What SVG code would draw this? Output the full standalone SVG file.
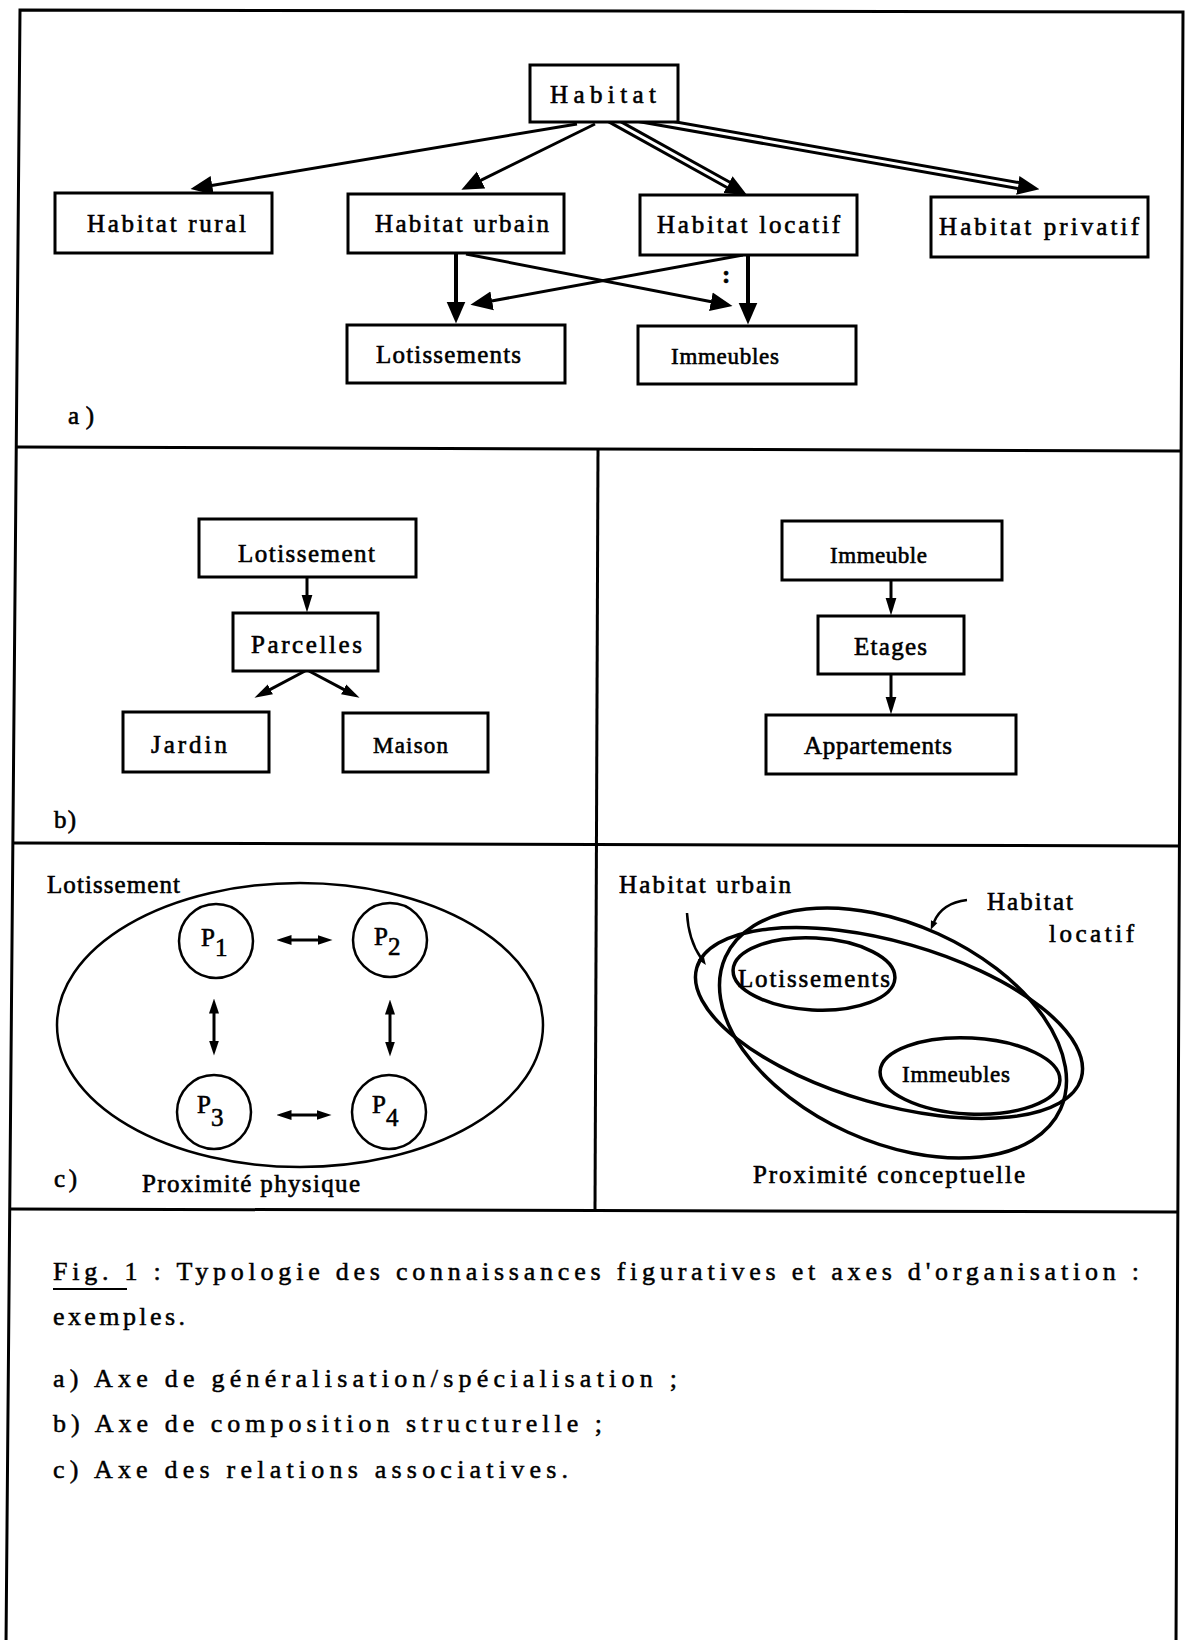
<svg xmlns="http://www.w3.org/2000/svg" width="1187" height="1640" viewBox="0 0 1187 1640">
<style>
  .frame { fill: none; stroke: #000; stroke-width: 3; }
  .box { fill: #fff; stroke: #000; stroke-width: 3; }
  .shape { fill: none; stroke: #000; stroke-width: 2.5; }
  .thick { fill: none; stroke: #000; stroke-width: 3.5; }
  .ln { fill: none; stroke: #000; stroke-width: 3; }
  .lnb { fill: none; stroke: #000; stroke-width: 4; }
  .dbl { fill: none; stroke: #000; stroke-width: 9; }
  .dblw { fill: none; stroke: #fff; stroke-width: 3; }
  .t { font-family: "Liberation Serif", "DejaVu Serif", serif; font-size: 25px; fill: #000; stroke: #000; stroke-width: 0.6px; }
  .ts { font-size: 23px; }
  .cap { font-family: "Liberation Serif", "DejaVu Serif", serif; font-size: 26px; fill: #000; stroke: #000; stroke-width: 0.5px; }
</style>
<defs>
  <marker id="ah" viewBox="0 -10 22 20" refX="0.5" refY="0" markerWidth="22" markerHeight="20" markerUnits="userSpaceOnUse" orient="auto">
    <path d="M0,-9.5 L22,0 L0,9.5 z" fill="#000"/>
  </marker>
  <marker id="ahb" viewBox="0 -6 18 12" refX="0.5" refY="0" markerWidth="18" markerHeight="12" markerUnits="userSpaceOnUse" orient="auto">
    <path d="M0,-5.5 L18,0 L0,5.5 z" fill="#000"/>
  </marker>
  <marker id="ahc" viewBox="0 -6 15 12" refX="0.5" refY="0" markerWidth="15" markerHeight="12" markerUnits="userSpaceOnUse" orient="auto-start-reverse">
    <path d="M0,-5 L15,0 L0,5 z" fill="#000"/>
  </marker>
  <marker id="tick" viewBox="0 -4 9 8" refX="0.5" refY="0" markerWidth="9" markerHeight="8" markerUnits="userSpaceOnUse" orient="auto">
    <path d="M0,-3.5 L9,0 L0,3.5 z" fill="#000"/>
  </marker>
</defs>

<rect x="0" y="0" width="1187" height="1640" fill="#fff"/>

<g id="frame">
  <path class="frame" d="M6,1645 L20,10 L1183,12 L1176,1645"/>
  <path class="frame" d="M17,447 L1181,451"/>
  <path class="frame" d="M14,843 L1180,846"/>
  <path class="frame" d="M11,1209 L1178,1212"/>
  <path class="frame" d="M598,449 L595,1210"/>
</g>

<g id="connectors">
  <!-- a) generalisation / specialisation -->
  <line class="ln" x1="577" y1="124" x2="211.7" y2="185.4" marker-end="url(#ah)"/>
  <line class="ln" x1="595" y1="124" x2="480.7" y2="180.3" marker-end="url(#ah)"/>
  <line class="dbl" x1="608" y1="118" x2="728.4" y2="184.9" marker-end="url(#ah)"/>
  <line class="dblw" x1="608" y1="118" x2="728.4" y2="184.9"/>
  <line class="dbl" x1="636" y1="118" x2="1018.3" y2="185.5" marker-end="url(#ah)"/>
  <line class="dblw" x1="636" y1="118" x2="1018.3" y2="185.5"/>
  <line class="lnb" x1="456" y1="253" x2="456" y2="302" marker-end="url(#ah)"/>
  <line class="lnb" x1="748" y1="255" x2="748" y2="303" marker-end="url(#ah)"/>
  <line class="ln" x1="466" y1="254" x2="711.4" y2="301.8" marker-end="url(#ah)"/>
  <line class="ln" x1="743" y1="255" x2="491.6" y2="301" marker-end="url(#ah)"/>
  <!-- b) composition -->
  <line class="ln" x1="307" y1="577" x2="307" y2="595" marker-end="url(#ahb)"/>
  <line class="ln" x1="305" y1="671" x2="269.9" y2="689.6" marker-end="url(#ahb)"/>
  <line class="ln" x1="309" y1="671" x2="344.1" y2="689.6" marker-end="url(#ahb)"/>
  <line class="ln" x1="891" y1="580" x2="891" y2="598" marker-end="url(#ahb)"/>
  <line class="ln" x1="891" y1="674" x2="891" y2="697" marker-end="url(#ahb)"/>
  <!-- c) associative relations -->
  <line class="ln" x1="291" y1="940" x2="318" y2="940" stroke-width="2.5" marker-start="url(#ahc)" marker-end="url(#ahc)"/>
  <line class="ln" x1="291" y1="1115" x2="317" y2="1115" stroke-width="2.5" marker-start="url(#ahc)" marker-end="url(#ahc)"/>
  <line class="ln" x1="214" y1="1013" x2="214" y2="1041" marker-start="url(#ahc)" marker-end="url(#ahc)"/>
  <line class="ln" x1="390" y1="1014" x2="390" y2="1042" marker-start="url(#ahc)" marker-end="url(#ahc)"/>
  <!-- pointers -->
  <path class="shape" d="M687,913 C688,932 694,948 701,958" marker-end="url(#tick)"/>
  <path class="shape" d="M967,900 C950,902 939,910 934,922" marker-end="url(#tick)"/>
</g>

<g id="n-habitat">
  <rect class="box" x="530" y="65" width="148" height="57"/>
  <text class="t" x="550" y="103" textLength="106" lengthAdjust="spacing">Habitat</text>
</g>
<g id="n-habitat-rural">
  <rect class="box" x="55" y="193" width="217" height="60"/>
  <text class="t" x="87" y="232" textLength="159" lengthAdjust="spacing">Habitat rural</text>
</g>
<g id="n-habitat-urbain">
  <rect class="box" x="348" y="194" width="216" height="59"/>
  <text class="t" x="375" y="232" textLength="174" lengthAdjust="spacing">Habitat urbain</text>
</g>
<g id="n-habitat-locatif">
  <rect class="box" x="640" y="195" width="217" height="60"/>
  <text class="t" x="657" y="233" textLength="183" lengthAdjust="spacing">Habitat locatif</text>
  <text class="t" x="722" y="283" font-weight="bold">:</text>
</g>
<g id="n-habitat-privatif">
  <rect class="box" x="931" y="197" width="217" height="60"/>
  <text class="t" x="939" y="235" textLength="200" lengthAdjust="spacing">Habitat privatif</text>
</g>
<g id="n-lotissements-a">
  <rect class="box" x="347" y="325" width="218" height="58"/>
  <text class="t" x="376" y="363" textLength="145" lengthAdjust="spacing">Lotissements</text>
</g>
<g id="n-immeubles-a">
  <rect class="box" x="638" y="326" width="218" height="58"/>
  <text class="t ts" x="671" y="364" textLength="108" lengthAdjust="spacing">Immeubles</text>
</g>
<g id="label-a">
  <text class="t" x="68" y="424" textLength="26" lengthAdjust="spacing">a)</text>
</g>

<g id="n-lotissement-b">
  <rect class="box" x="199" y="519" width="217" height="58"/>
  <text class="t" x="238" y="562" textLength="137" lengthAdjust="spacing">Lotissement</text>
</g>
<g id="n-parcelles">
  <rect class="box" x="233" y="613" width="145" height="58"/>
  <text class="t" x="251" y="653" textLength="111" lengthAdjust="spacing">Parcelles</text>
</g>
<g id="n-jardin">
  <rect class="box" x="123" y="712" width="146" height="60"/>
  <text class="t" x="151" y="753" textLength="76" lengthAdjust="spacing">Jardin</text>
</g>
<g id="n-maison">
  <rect class="box" x="343" y="713" width="145" height="59"/>
  <text class="t ts" x="373" y="753" textLength="75" lengthAdjust="spacing">Maison</text>
</g>
<g id="n-immeuble-b">
  <rect class="box" x="782" y="521" width="220" height="59"/>
  <text class="t ts" x="830" y="563" textLength="97" lengthAdjust="spacing">Immeuble</text>
</g>
<g id="n-etages">
  <rect class="box" x="818" y="616" width="146" height="58"/>
  <text class="t" x="854" y="655" textLength="73" lengthAdjust="spacing">Etages</text>
</g>
<g id="n-appartements">
  <rect class="box" x="766" y="715" width="250" height="59"/>
  <text class="t" x="804" y="754" textLength="148" lengthAdjust="spacing">Appartements</text>
</g>
<g id="label-b">
  <text class="t" x="54" y="828" textLength="22" lengthAdjust="spacing">b)</text>
</g>

<g id="n-lotissement-c">
  <ellipse class="shape" cx="300" cy="1025" rx="243" ry="142"/>
  <text class="t" x="47" y="893" textLength="133" lengthAdjust="spacing">Lotissement</text>
</g>
<g id="n-p1">
  <circle class="shape" cx="216" cy="941" r="37"/>
  <text class="t" x="201" y="946" font-size="26">P<tspan dy="10">1</tspan></text>
</g>
<g id="n-p2">
  <circle class="shape" cx="390" cy="940" r="37"/>
  <text class="t" x="374" y="945" font-size="26">P<tspan dy="10">2</tspan></text>
</g>
<g id="n-p3">
  <circle class="shape" cx="214" cy="1112" r="37"/>
  <text class="t" x="197" y="1113" font-size="26">P<tspan dy="13">3</tspan></text>
</g>
<g id="n-p4">
  <circle class="shape" cx="389" cy="1112" r="37"/>
  <text class="t" x="372" y="1113" font-size="26">P<tspan dy="13">4</tspan></text>
</g>
<g id="label-c">
  <text class="t" x="54" y="1187" textLength="23" lengthAdjust="spacing">c)</text>
  <text class="t" x="142" y="1192" textLength="218" lengthAdjust="spacing">Proximité physique</text>
</g>

<g id="n-habitat-urbain-c">
  <ellipse class="thick" cx="889" cy="1023" rx="200" ry="81" transform="rotate(16 889 1023)"/>
  <text class="t" x="619" y="893" textLength="172" lengthAdjust="spacing">Habitat urbain</text>
</g>
<g id="n-habitat-locatif-c">
  <ellipse class="thick" cx="893" cy="1033" rx="184" ry="109" transform="rotate(24.4 893 1033)"/>
  <text class="t" x="987" y="910" textLength="86" lengthAdjust="spacing">Habitat</text>
  <text class="t" x="1049" y="942" textLength="85" lengthAdjust="spacing">locatif</text>
</g>
<g id="n-lotissements-c">
  <ellipse class="thick" cx="814" cy="974" rx="81" ry="36" transform="rotate(3 814 974)"/>
  <text class="t" x="738" y="987" textLength="152" lengthAdjust="spacing">Lotissements</text>
</g>
<g id="n-immeubles-c">
  <ellipse class="thick" cx="970" cy="1076" rx="90" ry="38" transform="rotate(3 970 1076)"/>
  <text class="t ts" x="902" y="1082" textLength="108" lengthAdjust="spacing">Immeubles</text>
</g>
<g id="label-c2">
  <text class="t" x="753" y="1183" textLength="272" lengthAdjust="spacing">Proximité conceptuelle</text>
</g>

<g id="caption">
  <text class="cap" x="53" y="1280" textLength="1086" lengthAdjust="spacing">Fig. 1 : Typologie des connaissances figuratives et axes d'organisation :</text>
  <line x1="53" y1="1289" x2="127" y2="1289" stroke="#000" stroke-width="2"/>
  <text class="cap" x="53" y="1325" textLength="132" lengthAdjust="spacing">exemples.</text>
  <text class="cap" x="53" y="1387" textLength="624" lengthAdjust="spacing">a) Axe de généralisation/spécialisation ;</text>
  <text class="cap" x="53" y="1432" textLength="549" lengthAdjust="spacing">b) Axe de composition structurelle ;</text>
  <text class="cap" x="53" y="1478" textLength="515" lengthAdjust="spacing">c) Axe des relations associatives.</text>
</g>
</svg>
